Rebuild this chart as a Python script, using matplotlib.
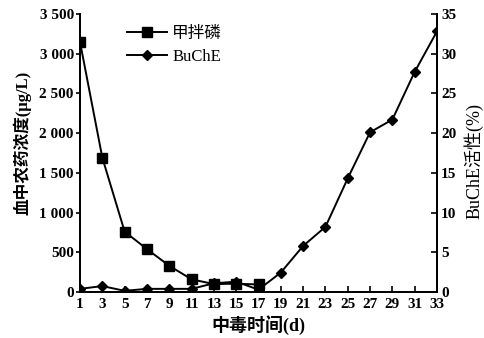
import matplotlib.pyplot as plt
from matplotlib.ticker import FuncFormatter

plt.rcParams['font.family'] = ['Liberation Serif', 'Noto Sans CJK SC']
plt.rcParams['font.size'] = 10

days = [1, 3, 5, 7, 9, 11, 13, 15, 17, 19, 21, 23, 25, 27, 29, 31, 33]
drug_days = [1, 3, 5, 7, 9, 11, 13, 15, 17]
drug_conc = [3145, 1690, 760, 540, 330, 160, 100, 105, 95]
buche = [0.4, 0.75, 0.15, 0.4, 0.4, 0.4, 1.1, 1.3, 0.3, 2.45, 5.8, 8.2, 14.3,
         20.1, 21.7, 27.7, 32.8]

fig = plt.figure(figsize=(4.85, 3.38), dpi=100)
ax = fig.add_axes([0.165, 0.136, 0.736, 0.823])
ax2 = ax.twinx()

l1, = ax.plot(drug_days, drug_conc, color='black', lw=1.4, marker='s',
              markersize=7, label='甲拌磷')
l2, = ax2.plot(days, buche, color='black', lw=1.4, marker='D',
               markersize=5.5, label='BuChE')

ax.set_xlim(1, 33)
ax.set_ylim(0, 3500)
ax2.set_ylim(0, 35)
ax.set_xticks(days)
ax.set_yticks(range(0, 3501, 500))
ax2.set_yticks(range(0, 36, 5))
ax.yaxis.set_major_formatter(FuncFormatter(lambda v, p: f'{int(v):,}'.replace(',', ' ')))

for a in (ax, ax2):
    a.spines['top'].set_visible(False)
    for s in a.spines.values():
        s.set_linewidth(1.3)
ax.tick_params(axis='x', direction='in', length=4, width=1.2, labelsize=11, pad=4)
ax.tick_params(axis='y', direction='out', length=3, width=1.2, labelsize=11, pad=1.5)
ax2.tick_params(axis='y', direction='in', length=4, width=1.2, labelsize=11, pad=3)

for t in ax.get_xticklabels() + ax.get_yticklabels() + ax2.get_yticklabels():
    t.set_fontweight('bold')

ax.set_xlabel('中毒时间(d)', fontsize=13, fontweight='bold', labelpad=3)
ax.set_ylabel('血中农药浓度(μg/L)', fontsize=12, fontweight='bold')
ax.yaxis.set_label_coords(-0.137, 0.536)
ax2.set_ylabel('BuChE活性(%)', fontsize=13)
ax2.yaxis.set_label_coords(1.076, 0.47)

ax.legend(handles=[l1, l2], loc='upper left', bbox_to_anchor=(0.09, 1.01),
          frameon=False, handlelength=2.4, handletextpad=0.3, fontsize=12,
          labelspacing=0.4)

fig.savefig('out.png', dpi=100)
